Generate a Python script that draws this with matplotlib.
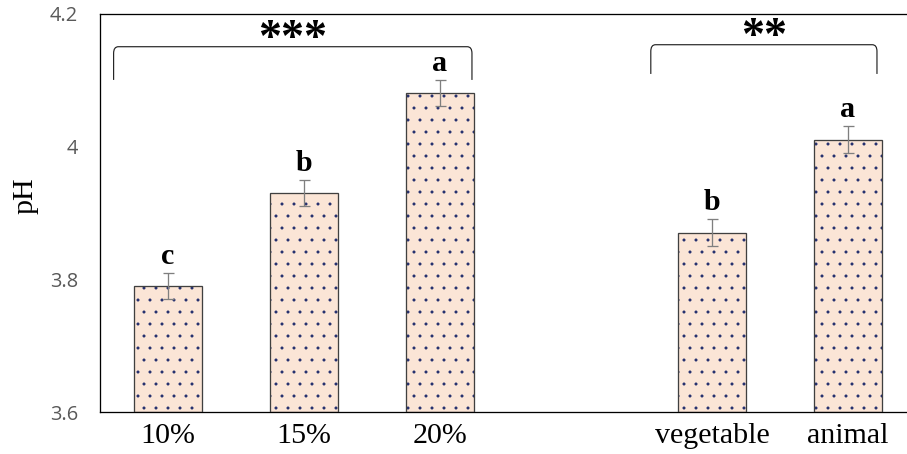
import matplotlib.pyplot as plt
from matplotlib.path import Path
from matplotlib.patches import PathPatch

# data
categories = ['10%', '15%', '20%', '', 'vegetable', 'animal']
ph_values = [3.79, 3.93, 4.08, None, 3.87, 4.01]
ph_err = [0.02, 0.02, 0.02, None, 0.02, 0.02]
letters = ['c', 'b', 'a', '', 'b', 'a']
groups = [(-0.40, 2.235, 4.150, 4.100, '***'),
          (3.55, 5.213, 4.153, 4.109, '**')]

plt.rcParams['hatch.linewidth'] = 0.5
plt.rcParams['hatch.color'] = '#1f2a6b'

# dpi 72 so points == pixels
fig = plt.figure(figsize=(907 / 72, 454 / 72), dpi=72)
ax = fig.add_axes([100 / 907, 42 / 454, 816 / 907, 398.5 / 454])

xs = [i for i, v in enumerate(ph_values) if v is not None]
vals = [ph_values[i] for i in xs]
errs = [ph_err[i] for i in xs]
heights = [v - 3.6 for v in vals]

ax.bar(xs, heights, bottom=3.6, width=0.5, color='#fbe5d6', hatch='.',
       edgecolor='#1f2a6b', linewidth=0, zorder=2)
ax.bar(xs, heights, bottom=3.6, width=0.5, fill=False,
       edgecolor='#404040', linewidth=1.3, zorder=3)
ax.errorbar(xs, vals, yerr=errs, fmt='none', ecolor='#7f7f7f',
            elinewidth=1.3, capsize=5.5, capthick=1.3, zorder=4)

for x, v, e in zip(xs, vals, errs):
    ax.annotate(letters[x], (x, v + e), xytext=(0, 3), textcoords='offset points',
                ha='center', va='bottom', fontsize=30, fontweight='bold',
                family='Liberation Serif')

for x0, x1, ytop, ybot, stars in groups:
    r = 0.035
    ry = 0.01
    verts = [(x0, ybot), (x0, ytop - ry), (x0, ytop), (x0 + r, ytop),
             (x1 - r, ytop), (x1, ytop), (x1, ytop - ry), (x1, ybot)]
    codes = [Path.MOVETO, Path.LINETO, Path.CURVE3, Path.CURVE3,
             Path.LINETO, Path.CURVE3, Path.CURVE3, Path.LINETO]
    ax.add_patch(PathPatch(Path(verts, codes), fill=False, edgecolor='#262626',
                           linewidth=1.2, zorder=5))
    ax.annotate(stars, ((x0 + x1) / 2, ytop), xytext=(0, -14),
                textcoords='offset points', ha='center', va='bottom',
                fontsize=46, fontweight='bold', family='Liberation Serif')

ax.set_xlim(-0.5, 5.5)
ax.set_ylim(3.6, 4.2)
ax.set_xticks(range(len(categories)))
ax.set_xticklabels(categories, family='Liberation Serif', fontsize=30)
ax.set_yticks([3.6, 3.8, 4.0, 4.2])
ax.set_yticklabels(['3.6', '3.8', '4', '4.2'], family='Open Sans',
                   fontsize=20, color='#595959')
ax.tick_params(axis='x', length=0, pad=11)
ax.tick_params(axis='y', length=0, pad=22)
for s in ['left', 'bottom', 'top']:
    ax.spines[s].set_linewidth(1.3)
ax.spines['right'].set_visible(False)

fig.text(25 / 907, 1 - 196 / 454, 'pH', rotation=90, ha='center', va='center',
         fontsize=30, family='Liberation Serif')

fig.savefig('out.png', dpi=72)
